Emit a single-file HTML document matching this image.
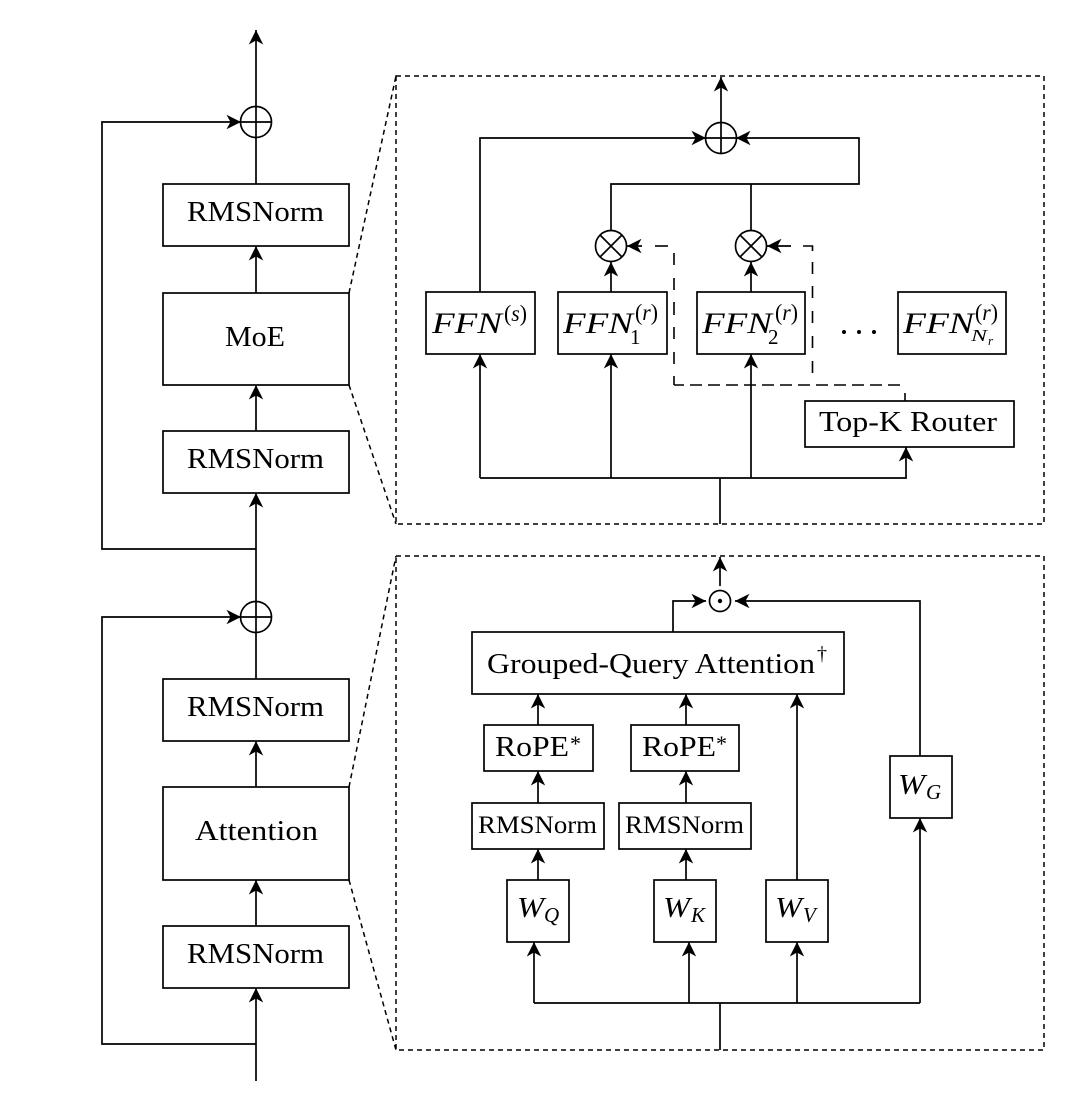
<!DOCTYPE html>
<html><head><meta charset="utf-8"><style>
html,body{margin:0;padding:0;background:#fff}
svg{display:block}
text{font-family:"Liberation Serif",serif;fill:#000}
.m{font-style:italic}
.l{fill:none;stroke:#000;stroke-width:1.7}
.a{fill:none;stroke:#000;stroke-width:1.7;marker-end:url(#h)}
.b{fill:#fff;stroke:#000;stroke-width:1.7}
.c{fill:none;stroke:#000;stroke-width:1.7}
.d{fill:none;stroke:#000;stroke-width:1.5;stroke-dasharray:5 4}
.e{fill:none;stroke:#000;stroke-width:1.6}
</style></head><body>
<svg width="1086" height="1103" viewBox="0 0 1086 1103" xmlns="http://www.w3.org/2000/svg">
<defs><marker id="h" markerUnits="userSpaceOnUse" markerWidth="16" markerHeight="16" refX="15" refY="8" orient="auto"><path d="M15,8 L0.5,0.8 L4.5,8 L0.5,15.2 Z" fill="#000"/></marker></defs>

<!-- left column -->
<path class="a" d="M256,1081 V988"/>
<path class="a" d="M256,926 V880"/>
<path class="a" d="M256,787 V741"/>
<path class="l" d="M256,679 V632"/>
<path class="a" d="M256,601 V549 V493"/>
<path class="a" d="M256,431 V385"/>
<path class="a" d="M256,293 V246"/>
<path class="l" d="M256,184 V138"/>
<path class="a" d="M256,106 V30"/>
<path class="a" d="M256,549 H102 V122 H241"/>
<path class="a" d="M256,1044 H102 V617 H241"/>
<circle class="c" cx="256" cy="122" r="15.5"/><path class="l" d="M240.5,122 H271.5 M256,106.5 V137.5"/>
<circle class="c" cx="256" cy="617" r="15.5"/><path class="l" d="M240.5,617 H271.5 M256,601.5 V632.5"/>
<rect class="b" x="163" y="184" width="186" height="62"/>
<rect class="b" x="163" y="293" width="186" height="92"/>
<rect class="b" x="163" y="431" width="186" height="62"/>
<rect class="b" x="163" y="679" width="186" height="62"/>
<rect class="b" x="163" y="787" width="186" height="93"/>
<rect class="b" x="163" y="926" width="186" height="62"/>
<text x="187" y="221" font-size="29" textLength="137" lengthAdjust="spacingAndGlyphs">RMSNorm</text>
<text x="225" y="346" font-size="29" textLength="60" lengthAdjust="spacingAndGlyphs">MoE</text>
<text x="187" y="468" font-size="29" textLength="137" lengthAdjust="spacingAndGlyphs">RMSNorm</text>
<text x="187" y="716" font-size="29" textLength="137" lengthAdjust="spacingAndGlyphs">RMSNorm</text>
<text x="195" y="840" font-size="29" textLength="123" lengthAdjust="spacingAndGlyphs">Attention</text>
<text x="187" y="963" font-size="29" textLength="137" lengthAdjust="spacingAndGlyphs">RMSNorm</text>

<!-- zoom dashes -->
<path class="d" d="M349,293 L396,76 M349,385 L396,524 M349,787 L396,556 M349,880 L396,1050"/>
<rect class="d" x="396" y="76" width="648" height="448"/>
<rect class="d" x="396" y="556" width="648" height="494"/>

<!-- top panel -->
<path class="l" d="M720,524 V478"/>
<path class="a" d="M480,478 V354"/>
<path class="a" d="M611,478 V354"/>
<path class="a" d="M751,478 V354"/>
<path class="a" d="M480,478 H906 V447"/>
<path class="a" d="M611,292 V262"/>
<path class="a" d="M751,292 V262"/>
<path class="a" d="M480,292 V138 H706"/>
<path class="a" d="M611,231 V184 H859 V138 H736"/>
<path class="l" d="M751,231 V184"/>
<path class="a" d="M721,123 V77"/>
<circle class="c" cx="721" cy="138" r="15.5"/><path class="l" d="M705.5,138 H736.5 M721,122.5 V153.5"/>
<circle class="c" cx="611" cy="246" r="15.5"/><path class="l" d="M600,235 L622,257 M600,257 L622,235"/>
<circle class="c" cx="751" cy="246" r="15.5"/><path class="l" d="M740,235 L762,257 M740,257 L762,235"/>
<!-- dashed router connections -->
<path class="e" d="M905,401 V393"/>
<path class="e" style="stroke-dasharray:12 6" d="M900,385 H674"/>
<path class="e" d="M674,385 V376 M674,364 V352 M674,339 V327 M674,315 V302 M674,290 V278 M674,265 V253"/>
<path class="e" d="M668,246 H655"/>
<path class="a" d="M642,246 H627"/>
<path class="e" d="M812.5,373 V361 M812.5,348 V336 M812.5,323 V311 M812.5,298 V286 M812.5,274 V262 M812.5,251 V246 H803"/>
<path class="a" d="M791,246 H767"/>
<rect class="b" x="426" y="292" width="109" height="62"/>
<rect class="b" x="558" y="292" width="109" height="62"/>
<rect class="b" x="697" y="292" width="108" height="62"/>
<rect class="b" x="898" y="292" width="108" height="62"/>
<rect class="b" x="805" y="401" width="209" height="46"/>
<text class="m" x="432" y="333" font-size="30" textLength="70" lengthAdjust="spacingAndGlyphs">FFN</text>
<text x="504" y="321" font-size="23" textLength="23" lengthAdjust="spacingAndGlyphs">(<tspan class="m">s</tspan>)</text>
<text class="m" x="563" y="333" font-size="30" textLength="70" lengthAdjust="spacingAndGlyphs">FFN</text>
<text x="635" y="320" font-size="23" textLength="23" lengthAdjust="spacingAndGlyphs">(<tspan class="m">r</tspan>)</text>
<text x="630" y="344" font-size="21">1</text>
<text class="m" x="702" y="333" font-size="30" textLength="70" lengthAdjust="spacingAndGlyphs">FFN</text>
<text x="775" y="320" font-size="23" textLength="23" lengthAdjust="spacingAndGlyphs">(<tspan class="m">r</tspan>)</text>
<text x="768" y="344" font-size="21">2</text>
<text class="m" x="903" y="333" font-size="30" textLength="71" lengthAdjust="spacingAndGlyphs">FFN</text>
<text x="975" y="320" font-size="23" textLength="23" lengthAdjust="spacingAndGlyphs">(<tspan class="m">r</tspan>)</text>
<text class="m" x="971" y="341" font-size="17" textLength="16" lengthAdjust="spacingAndGlyphs">N</text>
<text class="m" x="988" y="345" font-size="13">r</text>
<circle cx="844" cy="332" r="2" fill="#000"/><circle cx="859" cy="332" r="2" fill="#000"/><circle cx="874" cy="332" r="2" fill="#000"/>
<text x="819" y="431" font-size="29" textLength="178" lengthAdjust="spacingAndGlyphs">Top-K Router</text>

<!-- bottom panel -->
<path class="l" d="M720,1050 V1003"/>
<path class="l" d="M534,1003 H920"/>
<path class="a" d="M534,1003 V942"/>
<path class="a" d="M689,1003 V942"/>
<path class="a" d="M797,1003 V942"/>
<path class="a" d="M920,1003 V818"/>
<path class="a" d="M538,880 V849"/>
<path class="a" d="M686,880 V849"/>
<path class="a" d="M538,803 V771"/>
<path class="a" d="M686,803 V771"/>
<path class="a" d="M538,725 V694"/>
<path class="a" d="M686,725 V694"/>
<path class="a" d="M797,880 V694"/>
<path class="a" d="M920,756 V601 H735"/>
<path class="a" d="M673,632 V601 H706"/>
<path class="a" d="M720,586 V557"/>
<circle class="c" cx="720" cy="601" r="10.5"/><circle cx="720" cy="601" r="2.2" fill="#000"/>
<rect class="b" x="472" y="632" width="372" height="62"/>
<rect class="b" x="484" y="725" width="109" height="46"/>
<rect class="b" x="631" y="725" width="108" height="46"/>
<rect class="b" x="472" y="803" width="132" height="46"/>
<rect class="b" x="619" y="803" width="132" height="46"/>
<rect class="b" x="507" y="880" width="62" height="62"/>
<rect class="b" x="654" y="880" width="62" height="62"/>
<rect class="b" x="766" y="880" width="62" height="62"/>
<rect class="b" x="890" y="756" width="62" height="62"/>
<text x="487" y="673" font-size="29" textLength="328" lengthAdjust="spacingAndGlyphs">Grouped-Query Attention</text>
<text x="817" y="660" font-size="20">†</text>
<text x="495" y="756" font-size="29" textLength="74" lengthAdjust="spacingAndGlyphs">RoPE</text>
<text x="570" y="751" font-size="22">*</text>
<text x="642" y="756" font-size="29" textLength="74" lengthAdjust="spacingAndGlyphs">RoPE</text>
<text x="716" y="751" font-size="22">*</text>
<text x="478" y="833" font-size="25" textLength="119" lengthAdjust="spacingAndGlyphs">RMSNorm</text>
<text x="625" y="833" font-size="25" textLength="119" lengthAdjust="spacingAndGlyphs">RMSNorm</text>
<text class="m" x="517" y="917" font-size="29" textLength="27" lengthAdjust="spacingAndGlyphs">W</text>
<text class="m" x="544" y="922" font-size="21">Q</text>
<text class="m" x="663" y="917" font-size="29" textLength="27" lengthAdjust="spacingAndGlyphs">W</text>
<text class="m" x="691" y="922" font-size="21">K</text>
<text class="m" x="775" y="917" font-size="29" textLength="27" lengthAdjust="spacingAndGlyphs">W</text>
<text class="m" x="803" y="922" font-size="21">V</text>
<text class="m" x="898" y="794" font-size="29" textLength="27" lengthAdjust="spacingAndGlyphs">W</text>
<text class="m" x="926" y="799" font-size="21">G</text>
</svg>
</body></html>
